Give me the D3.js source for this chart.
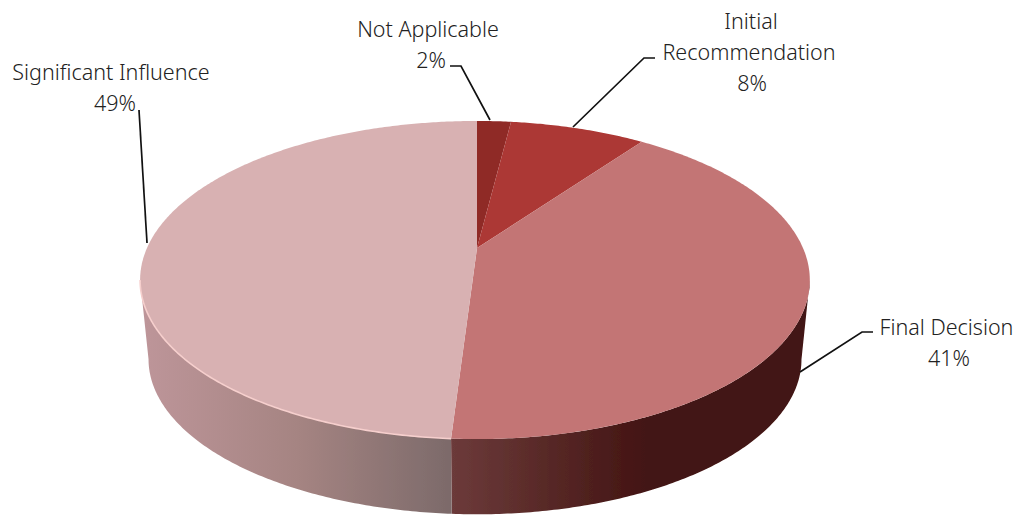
<!DOCTYPE html>
<html>
<head>
<meta charset="utf-8">
<script src="https://d3js.org/d3.v7.min.js"></script>
<style>
  html, body { margin: 0; padding: 0; background: #fff; }
  svg { display: block; }
</style>
</head>
<body>
<div id="chart"></div>
<script>
// Chart data
var categories = ["Not Applicable", "Initial Recommendation", "Final Decision", "Significant Influence"];
var shares = [2, 8, 41, 49];
var topColors = ["#8f2a26", "#ac3834", "#c37575", "#d8b1b2"];

// Label text, one entry per line
var labelLines = [
    ["Not Applicable", "2%"],
    ["Initial", "Recommendation", "8%"],
    ["Final Decision", "41%"],
    ["Significant Influence", "49%"]
];

var svgWidth = 1022;
var svgHeight = 515;

// Perspective of the disc: where the centre lands, half widths, half height and foreshortening
var disc = { x: 477, y: 248, left: 330, right: 326, b: 152.6, k: 0.2013 };
var base = { dy: 80, scale: 0.975 };

// Label and leader placement, same order as categories
var labelLayout = [
    { lines: [[428, 37], [431, 68]], leader: [[450, 66], [461, 66], [490, 120]] },
    { lines: [[751, 29], [749, 60], [752, 91]], leader: [[655, 58], [644, 58], [573, 127]] },
    { lines: [[946.5, 335], [949, 366]], leader: [[873, 332], [862, 332], [800, 372]] },
    { lines: [[111, 80], [115, 111]], leader: [[139, 110], [139, 110], [147, 243]] }
];

var svg = d3.select("#chart")
    .append("svg")
    .attr("width", svgWidth)
    .attr("height", svgHeight);

var defs = svg.append("defs");

defs.append("filter")
    .attr("id", "soft")
    .append("feGaussianBlur")
    .attr("stdDeviation", 0.5);

function sideGradient(id, x1, x2, stops) {
    var g = defs.append("linearGradient")
        .attr("id", id)
        .attr("gradientUnits", "userSpaceOnUse")
        .attr("x1", x1).attr("x2", x2)
        .attr("y1", 0).attr("y2", 0);
    stops.forEach(function(s) {
        g.append("stop").attr("offset", s[0]).attr("stop-color", s[1]);
    });
}

sideGradient("sideInfluence", 145, 452, [[0, "#bd9599"], [0.5, "#a58482"], [1, "#7c6a6a"]]);
sideGradient("sideDecision", 452, 650, [[0, "#6c3a3a"], [0.45, "#592a28"], [1, "#421312"]]);

// Angle on the disc to screen position
function project(angle, level) {
    var X = Math.sin(angle);
    var Y = Math.cos(angle);
    var s = level ? base.scale : 1;
    var d = 1 + disc.k * Y;
    var a = X < 0 ? disc.left : disc.right;
    return [
        disc.x + s * a * X / d,
        disc.y + (level ? base.dy : 0) - s * disc.b * Y / d
    ];
}

function rim(start, end, level) {
    var n = Math.max(2, Math.ceil((end - start) / 0.01));
    return d3.range(n + 1).map(function(i) {
        return project(start + (end - start) * i / n, level);
    });
}

var line = d3.line();
var arcs = d3.pie().sort(null).value(function(d) { return d; })(shares);

// Angles where the rim is widest, the wall stops there
var rightEdge = Math.acos(-disc.k);
var leftEdge = 2 * Math.PI - rightEdge;

function wall(start, end) {
    return line(rim(start, end, 0).concat(rim(start, end, 1).reverse())) + "Z";
}

var pieGroup = svg.append("g").attr("filter", "url(#soft)");

// Side wall, only the two big slices reach the front
pieGroup.append("path")
    .attr("d", wall(rightEdge, arcs[2].endAngle))
    .attr("fill", "url(#sideDecision)");

pieGroup.append("path")
    .attr("d", wall(arcs[3].startAngle, leftEdge))
    .attr("fill", "url(#sideInfluence)");

// Top face
pieGroup.selectAll("path.slice")
    .data(arcs)
    .enter()
    .append("path")
    .attr("class", "slice")
    .attr("d", function(d) {
        return line([[disc.x, disc.y]].concat(rim(d.startAngle, d.endAngle, 0))) + "Z";
    })
    .attr("fill", function(d, i) { return topColors[i]; });

// Light edge along the front of the big slice
pieGroup.append("path")
    .attr("d", line(rim(arcs[3].startAngle, leftEdge, 0)))
    .attr("fill", "none")
    .attr("stroke", "#f6cfcd")
    .attr("stroke-width", 1.6);

// Leaders
svg.selectAll("path.leader")
    .data(labelLayout)
    .enter()
    .append("path")
    .attr("class", "leader")
    .attr("d", function(d) { return line(d.leader); })
    .attr("fill", "none")
    .attr("stroke", "#111")
    .attr("stroke-width", 1.7);

// Labels
labelLines.forEach(function(lines, i) {
    svg.append("g").selectAll("text")
        .data(lines)
        .enter()
        .append("text")
        .text(function(d) { return d; })
        .attr("x", function(d, j) { return labelLayout[i].lines[j][0]; })
        .attr("y", function(d, j) { return labelLayout[i].lines[j][1]; })
        .attr("text-anchor", "middle")
        .attr("font-family", "'Noto Sans', sans-serif")
        .attr("font-weight", 300)
        .attr("font-size", "21.5px")
        .attr("fill", "#222");
});
</script>
</body>
</html>
